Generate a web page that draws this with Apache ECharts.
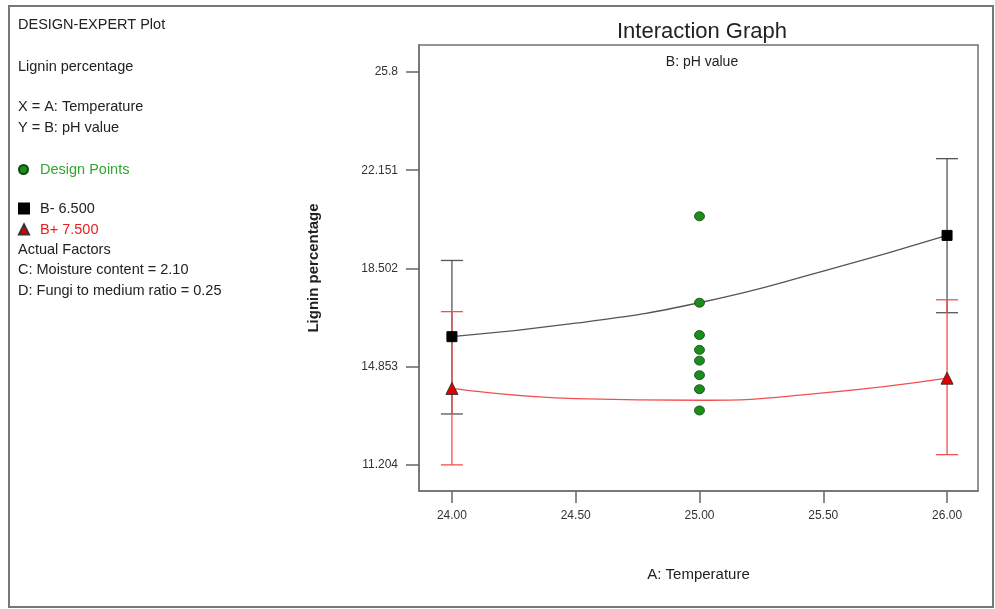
<!DOCTYPE html>
<html>
<head>
<meta charset="utf-8">
<script src="https://cdn.jsdelivr.net/npm/echarts@6/dist/echarts.min.js"></script>
<style>
  html, body { margin: 0; padding: 0; background: #fff; }
  #chart { width: 995px; height: 609px; }
</style>
</head>
<body>
<div id="chart"></div>
<script>
// values
const xTicks = [24, 24.5, 25, 25.5, 26];
const yTicks = [11.204, 14.853, 18.502, 22.151, 25.8];
const yTickLabels = ['11.204', '14.853', '18.502', '22.151', '25.8'];

const curveX = [24, 24.5, 25, 25.5, 26];
const bMinusCurve = [15.97, 16.47, 17.23, 18.40, 19.73];
const bPlusCurve = [14.05, 13.67, 13.61, 13.88, 14.43];

const barX = [24, 26];
const bMinusLow = [13.10, 16.86];
const bMinusHigh = [18.80, 22.58];
const bPlusLow = [11.21, 11.59];
const bPlusHigh = [16.90, 17.34];

const designX = [25, 25, 25, 25, 25, 25, 25, 25];
const designY = [20.44, 17.23, 16.03, 15.48, 15.08, 14.54, 14.02, 13.23];

const infoLines = [
  ['DESIGN-EXPERT Plot', 24],
  ['Lignin percentage', 66],
  ['X = A: Temperature', 106],
  ['Y = B: pH value', 127],
  ['Actual Factors', 249],
  ['C: Moisture content = 2.10', 269],
  ['D: Fungi to medium ratio = 0.25', 290]
];

const FONT = '"Liberation Sans", Arial, sans-serif';
const chart = echarts.init(document.getElementById('chart'));

function errBar(color) {
  return function (params, api) {
    const x = api.value(0);
    const lo = api.coord([x, api.value(1)]);
    const hi = api.coord([x, api.value(2)]);
    const w = 11;
    const style = { stroke: color, lineWidth: 1.3 };
    return {
      type: 'group',
      children: [
        { type: 'line', shape: { x1: lo[0], y1: lo[1], x2: hi[0], y2: hi[1] }, style },
        { type: 'line', shape: { x1: hi[0] - w, y1: hi[1], x2: hi[0] + w, y2: hi[1] }, style },
        { type: 'line', shape: { x1: lo[0] - w, y1: lo[1], x2: lo[0] + w, y2: lo[1] }, style }
      ]
    };
  };
}

function curveData(ys, sym) {
  return curveX.map((x, i) => ({
    value: [x, ys[i]],
    symbol: (x === 24 || x === 26) ? sym : 'none'
  }));
}

const option = {
  animation: false,
  textStyle: { fontFamily: FONT },
  title: [
    {
      text: 'Interaction Graph', left: 697, top: 16, textAlign: 'center',
      textStyle: { fontFamily: FONT, fontSize: 22, fontWeight: 'normal', color: '#222' }
    },
    {
      text: 'B: pH value', left: 697, top: 50, textAlign: 'center',
      textStyle: { fontFamily: FONT, fontSize: 14, fontWeight: 'normal', color: '#222' }
    }
  ],
  legend: [
    {
      selectedMode: false, left: 18, top: 162, padding: 0, itemWidth: 9, itemHeight: 9,
      textStyle: { fontFamily: FONT, fontSize: 14.5, padding: [0, 0, 0, 7] },
      data: [{ name: 'Design Points', icon: 'circle', textStyle: { color: '#2ea82e' } }]
    },
    {
      selectedMode: false, orient: 'vertical', left: 18, top: 201, padding: 0, itemGap: 6,
      itemWidth: 10, itemHeight: 10,
      textStyle: { fontFamily: FONT, fontSize: 14.5, padding: [0, 0, 0, 6] },
      data: [
        { name: 'B- 6.500', icon: 'rect', textStyle: { color: '#222' } },
        { name: 'B+ 7.500', icon: 'triangle', textStyle: { color: '#e82020' } }
      ]
    }
  ],
  grid: {
    left: 419, right: 17, top: 45, bottom: 118,
    show: true, borderColor: '#707070', borderWidth: 1.5
  },
  xAxis: {
    type: 'value', min: 23.867, max: 26.125,
    name: 'A: Temperature', nameLocation: 'middle', nameGap: 76,
    nameTextStyle: { fontFamily: FONT, fontSize: 15, color: '#222' },
    axisLine: { show: true, lineStyle: { color: '#707070', width: 1.5 } },
    axisTick: { show: true, length: 12, customValues: xTicks, lineStyle: { color: '#666', width: 1.5 } },
    axisLabel: {
      customValues: xTicks, margin: 19, fontSize: 12, color: '#333', fontFamily: FONT,
      formatter: v => v.toFixed(2)
    },
    splitLine: { show: false }
  },
  yAxis: {
    type: 'value', min: 10.24, max: 26.8,
    name: 'Lignin percentage', nameLocation: 'middle', nameGap: 98,
    nameTextStyle: { fontFamily: FONT, fontSize: 15, fontWeight: 'bold', color: '#222' },
    axisLine: { show: true, lineStyle: { color: '#707070', width: 1.5 } },
    axisTick: { show: true, length: 13, customValues: yTicks, lineStyle: { color: '#666', width: 1.5 } },
    axisLabel: {
      customValues: yTicks, margin: 21, fontSize: 12, color: '#333', fontFamily: FONT,
      formatter: v => yTickLabels[yTicks.findIndex(t => Math.abs(t - v) < 1e-6)] || ''
    },
    splitLine: { show: false }
  },
  series: [
    {
      name: 'B- 6.500 bars', type: 'custom', z: 2,
      renderItem: errBar('#555'),
      encode: { x: 0, y: [1, 2] },
      data: barX.map((x, i) => [x, bMinusLow[i], bMinusHigh[i]])
    },
    {
      name: 'B+ 7.500 bars', type: 'custom', z: 3,
      renderItem: errBar('#f05050'),
      encode: { x: 0, y: [1, 2] },
      data: barX.map((x, i) => [x, bPlusLow[i], bPlusHigh[i]])
    },
    {
      name: 'B- 6.500', type: 'line', z: 4, smooth: 0.5,
      showAllSymbol: true, symbolSize: 10,
      lineStyle: { color: '#555', width: 1.3 },
      itemStyle: { color: '#000', borderColor: '#000', borderWidth: 1 },
      data: curveData(bMinusCurve, 'rect')
    },
    {
      name: 'B+ 7.500', type: 'line', z: 4, smooth: 0.5,
      showAllSymbol: true, symbolSize: 12,
      lineStyle: { color: '#f05050', width: 1.3 },
      itemStyle: { color: '#e00000', borderColor: '#333', borderWidth: 1 },
      data: curveData(bPlusCurve, 'triangle')
    },
    {
      name: 'Design Points', type: 'scatter', z: 5, symbol: 'circle', symbolSize: [10, 9],
      itemStyle: { color: '#1c8c1c', borderColor: '#0a4a0a', borderWidth: 0.8, opacity: 1 },
      data: designX.map((x, i) => [x, designY[i]])
    }
  ],
  graphic: [
    {
      type: 'rect', silent: true, z: 100,
      shape: { x: 9, y: 6, width: 984, height: 601 },
      style: { fill: 'none', stroke: '#777', lineWidth: 2 }
    }
  ].concat(infoLines.map(([t, y]) => ({
    type: 'text', left: 18, top: y - 7, silent: true,
    style: { text: t, fill: '#222', font: '14.5px ' + FONT }
  })))
};

chart.setOption(option);
</script>
</body>
</html>
